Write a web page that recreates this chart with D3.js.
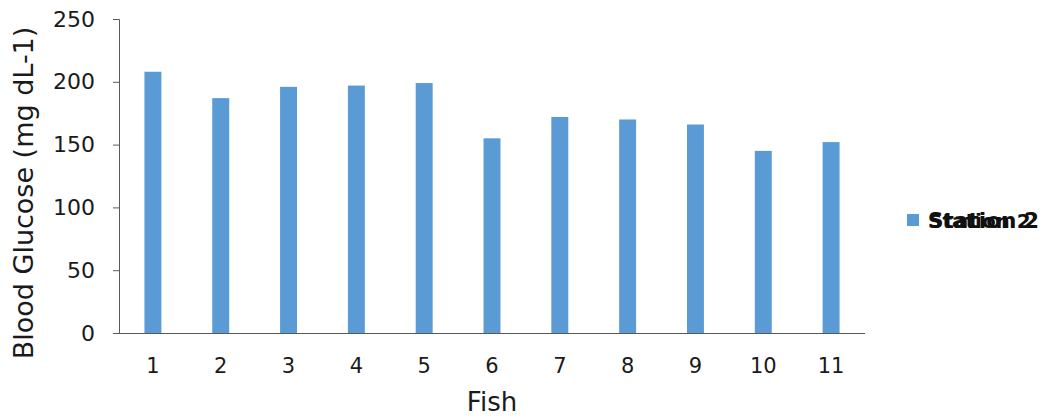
<!DOCTYPE html>
<html>
<head>
<meta charset="utf-8">
<script src="https://cdn.jsdelivr.net/npm/d3@7"></script>
<style>
  html, body { margin: 0; padding: 0; background: #fff; }
  svg { display: block; font-family: "DejaVu Sans", Verdana, sans-serif; }
</style>
</head>
<body>
<svg id="chart" width="1045" height="419"></svg>
<script>
// Blood glucose per fish
const fish = ["1", "2", "3", "4", "5", "6", "7", "8", "9", "10", "11"];
const glucose = [208, 187, 196, 197, 199, 155, 172, 170, 166, 145, 152];
const yTicks = [0, 50, 100, 150, 200, 250];
const legendLabels = ["Station 2", "Station 2"];

const svg = d3.select("#chart");
const W = 1045, H = 419;
const x0 = 119, x1 = 865;
const y0 = 333, y1 = 19;

const x = d3.scaleBand().domain(fish).range([x0, x1]).paddingInner(0.75).paddingOuter(0.375);
const y = d3.scaleLinear().domain([0, 250]).range([y0, y1]);

const barColor = "#5b9bd5";
const axisColor = "#595959";
const textColor = "#1a1a1a";

// bars
svg.append("g").selectAll("rect").data(glucose).join("rect")
  .attr("x", (d, i) => x(fish[i]))
  .attr("y", d => y(d))
  .attr("width", x.bandwidth())
  .attr("height", d => y(0) - y(d))
  .attr("fill", barColor);

// y axis
const yAxis = svg.append("g")
  .attr("transform", `translate(${x0},0)`)
  .call(d3.axisLeft(y).tickValues(yTicks).tickSize(6).tickPadding(18).tickSizeOuter(6));
yAxis.select(".domain").attr("stroke", axisColor);
yAxis.selectAll(".tick line").attr("stroke", axisColor);
yAxis.selectAll("text").attr("font-size", 22).attr("fill", textColor)
  .attr("font-family", "DejaVu Sans, Verdana, sans-serif");

// x axis
const xAxis = svg.append("g")
  .attr("transform", `translate(0,${y0})`)
  .call(d3.axisBottom(x).tickSize(0).tickPadding(25));
xAxis.select(".domain").attr("stroke", axisColor).attr("d", `M${x0},0.5H${x1}`);
xAxis.selectAll("text").attr("font-size", 21).attr("fill", textColor)
  .attr("font-family", "DejaVu Sans, Verdana, sans-serif");

// axis titles
svg.append("text")
  .attr("x", (x0 + x1) / 2).attr("y", 411)
  .attr("text-anchor", "middle").attr("font-size", 26).attr("fill", textColor)
  .text("Fish");

svg.append("text")
  .attr("transform", "translate(33,193) rotate(-90)")
  .attr("text-anchor", "middle").attr("font-size", 27).attr("fill", textColor)
  .text("Blood Glucose (mg dL-1)");

// legend
const lg = svg.append("g").attr("transform", "translate(907,214)");
lg.append("rect").attr("width", 12).attr("height", 12).attr("fill", barColor);
lg.selectAll("text.lbl").data(legendLabels).join("text")
  .attr("class", "lbl")
  .attr("x", 21).attr("y", 14)
  .attr("font-size", (d, i) => i === 0 ? 20 : 21.6)
  .attr("font-weight", "bold")
  .attr("fill", "#111")
  .text(d => d);
</script>
</body>
</html>
